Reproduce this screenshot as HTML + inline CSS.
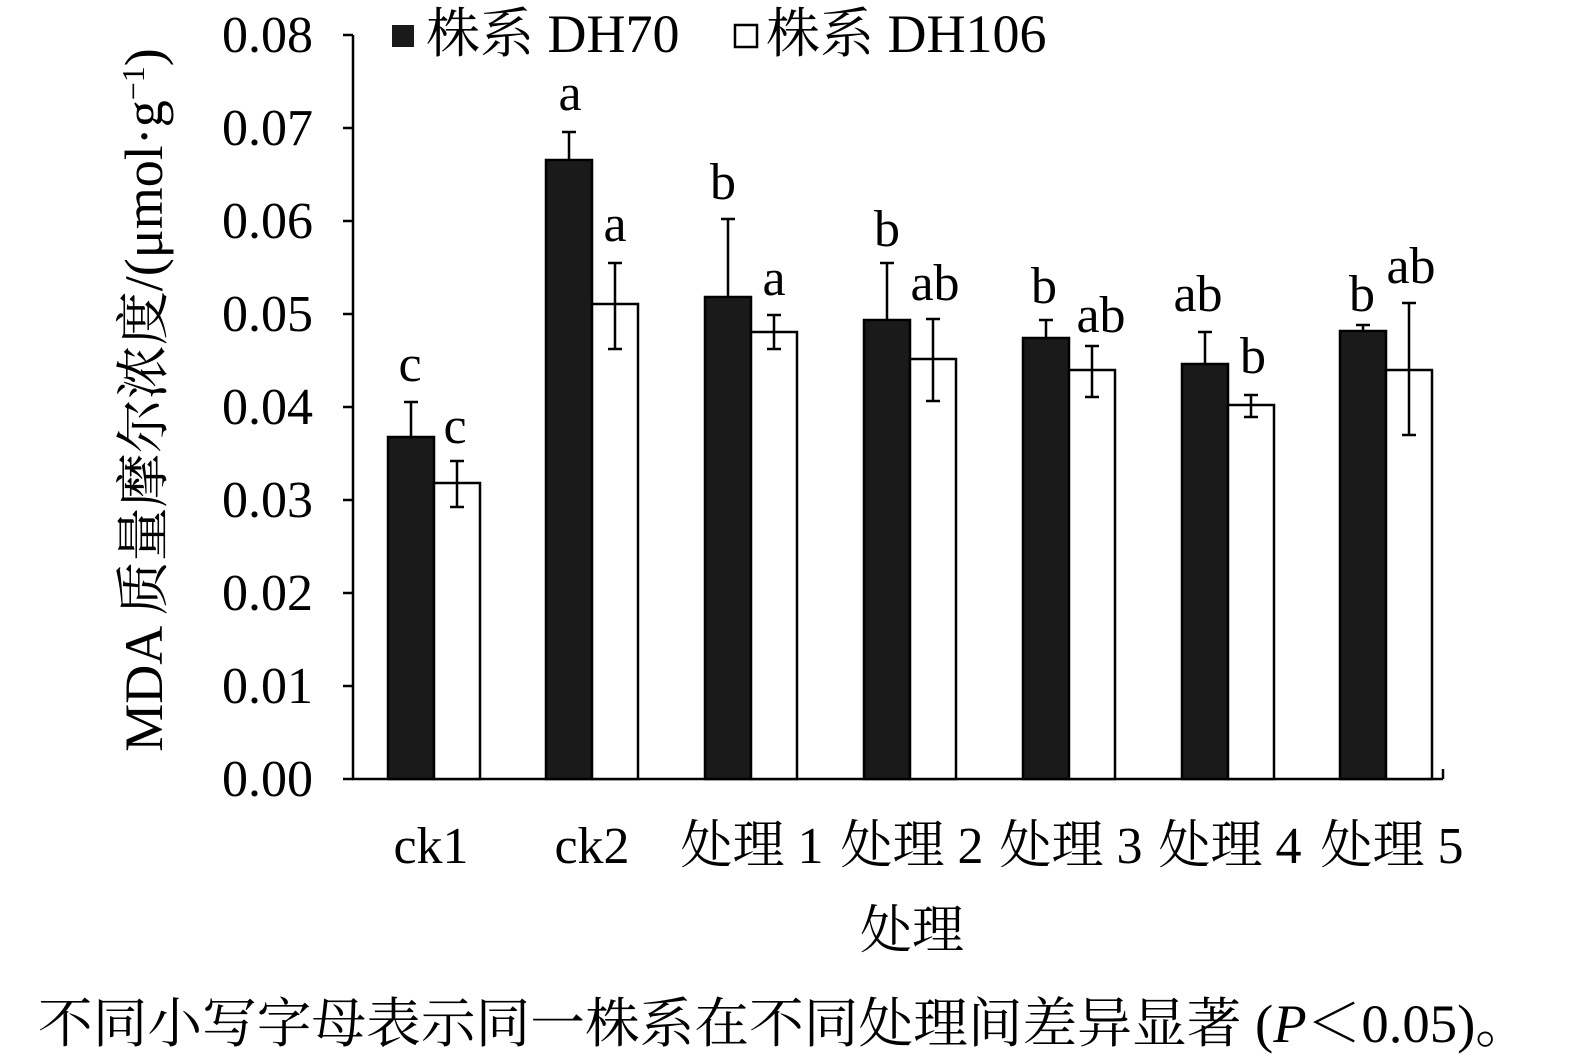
<!DOCTYPE html>
<html><head><meta charset="utf-8"><style>body{margin:0;background:#fff}svg{display:block}</style></head><body>
<svg width="1575" height="1064" xmlns="http://www.w3.org/2000/svg" font-family="Liberation Serif, Noto Serif CJK SC, serif">
<rect width="1575" height="1064" fill="#fff"/>
<g stroke="#000" stroke-width="2.5" fill="none">
<line x1="353" y1="35" x2="353" y2="780"/>
<line x1="352" y1="779" x2="1443" y2="779"/>
<line x1="1443" y1="779" x2="1443" y2="769"/>
<line x1="343" y1="35" x2="353" y2="35"/><line x1="343" y1="128" x2="353" y2="128"/>
<line x1="343" y1="221" x2="353" y2="221"/><line x1="343" y1="314" x2="353" y2="314"/>
<line x1="343" y1="407" x2="353" y2="407"/><line x1="343" y1="500" x2="353" y2="500"/>
<line x1="343" y1="593" x2="353" y2="593"/><line x1="343" y1="686" x2="353" y2="686"/>
<line x1="343" y1="779" x2="353" y2="779"/>
</g>
<g font-size="52" text-anchor="end">
<text x="313" y="52">0.08</text><text x="313" y="145">0.07</text><text x="313" y="238">0.06</text>
<text x="313" y="331">0.05</text><text x="313" y="424">0.04</text><text x="313" y="517">0.03</text>
<text x="313" y="610">0.02</text><text x="313" y="703">0.01</text><text x="313" y="796">0.00</text>
</g>
<g stroke="#000" stroke-width="2.5">
<rect x="388" y="437" width="46" height="342" fill="#1a1a1a"/>
<rect x="546" y="160" width="46" height="619" fill="#1a1a1a"/>
<rect x="705" y="297" width="46" height="482" fill="#1a1a1a"/>
<rect x="864" y="320" width="46" height="459" fill="#1a1a1a"/>
<rect x="1023" y="338" width="46" height="441" fill="#1a1a1a"/>
<rect x="1182" y="364" width="46" height="415" fill="#1a1a1a"/>
<rect x="1340" y="331" width="46" height="448" fill="#1a1a1a"/>
<rect x="434" y="483" width="46" height="296" fill="#fff"/>
<rect x="592" y="304" width="46" height="475" fill="#fff"/>
<rect x="751" y="332" width="46" height="447" fill="#fff"/>
<rect x="910" y="359" width="46" height="420" fill="#fff"/>
<rect x="1069" y="370" width="46" height="409" fill="#fff"/>
<rect x="1228" y="405" width="46" height="374" fill="#fff"/>
<rect x="1386" y="370" width="46" height="409" fill="#fff"/>
<path fill="none" d="M411 437V402M404 402H418 M569 160V132M562 132H576 M728 297V219M721 219H735 M887 320V263M880 263H894 M1046 338V320M1039 320H1053 M1205 364V332M1198 332H1212 M1363 331V325M1356 325H1370"/>
<path fill="none" d="M457 461V507M450 461H464M450 507H464 M615 263V349M608 263H622M608 349H622 M774 315V349M767 315H781M767 349H781 M933 319V401M926 319H940M926 401H940 M1092 346V397M1085 346H1099M1085 397H1099 M1251 395V417M1244 395H1258M1244 417H1258 M1409 303V435M1402 303H1416M1402 435H1416"/>
</g>
<g font-size="52" text-anchor="middle">
<text x="410" y="381">c</text><text x="455" y="443">c</text>
<text x="570" y="110">a</text><text x="615" y="241">a</text>
<text x="723" y="199">b</text><text x="774" y="295">a</text>
<text x="887" y="246">b</text><text x="935" y="300">ab</text>
<text x="1044" y="303">b</text><text x="1101" y="332">ab</text>
<text x="1198" y="311">ab</text><text x="1253" y="373">b</text>
<text x="1362" y="311">b</text><text x="1411" y="283">ab</text>
</g>
<g font-size="52" text-anchor="middle">
<text x="431" y="863">ck1</text><text x="592" y="863">ck2</text>
<text x="752" y="863">处理 1</text><text x="912" y="863">处理 2</text>
<text x="1071" y="863">处理 3</text><text x="1230" y="863">处理 4</text>
<text x="1392" y="863">处理 5</text>
<text x="912" y="948">处理</text>
</g>
<text transform="translate(162,400) rotate(-90)" font-size="54" text-anchor="middle">MDA 质量摩尔浓度/(μmol·g<tspan font-size="32" dy="-18">−1</tspan><tspan dy="18">)</tspan></text>
<rect x="392" y="25" width="22" height="22" fill="#1a1a1a"/>
<text x="426" y="52" font-size="54">株系 DH70</text>
<rect x="735" y="25" width="22" height="22" fill="#fff" stroke="#000" stroke-width="2.5"/>
<text x="766" y="52" font-size="54">株系 DH106</text>
<text x="38" y="1042" font-size="54" textLength="1492" lengthAdjust="spacingAndGlyphs">不同小写字母表示同一株系在不同处理间差异显著 (<tspan font-style="italic">P</tspan>＜0.05)。</text>
</svg>
</body></html>
